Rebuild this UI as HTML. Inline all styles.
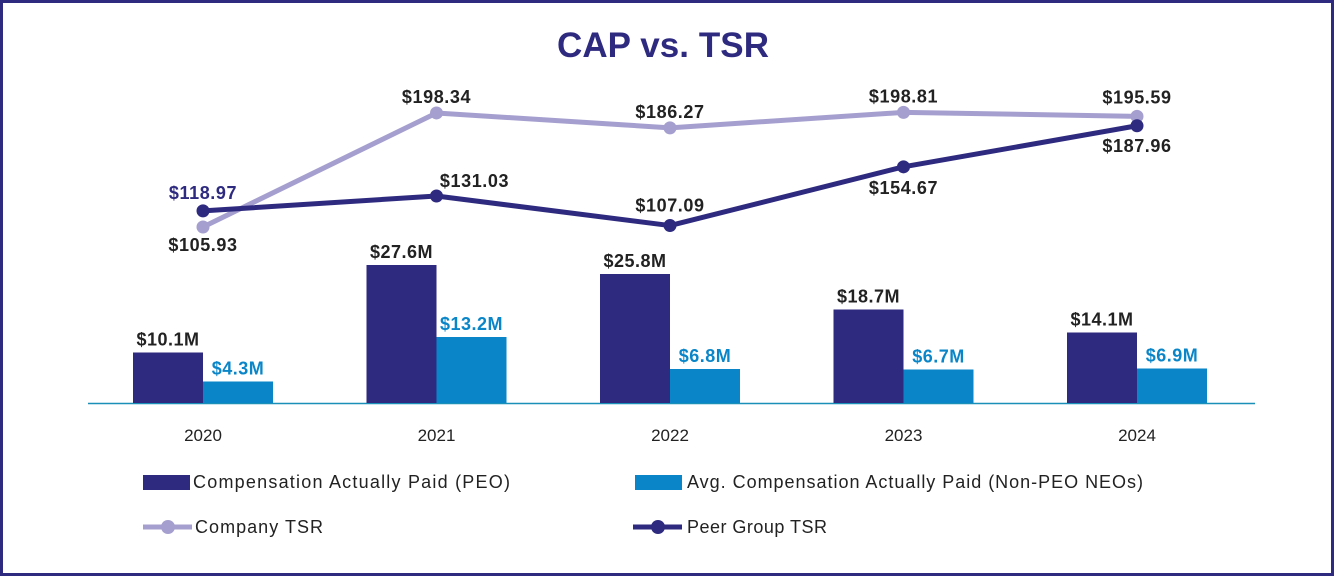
<!DOCTYPE html>
<html><head><meta charset="utf-8"><style>
html,body{margin:0;padding:0;background:#fff}
svg{display:block;font-family:"Liberation Sans",sans-serif}
</style></head><body>
<svg id="chart" width="1334" height="576" viewBox="0 0 1334 576">
<rect x="1.5" y="1.5" width="1331" height="573" fill="#fff" stroke="#2e2a7f" stroke-width="3"/>
<text x="663" y="57" text-anchor="middle" font-size="35" font-weight="bold" fill="#2e2a7f" textLength="212">CAP vs. TSR</text>
<g id="marks"></g>
<g>
<rect x="143" y="475" width="47" height="15" fill="#2e2a7f"/>
<text x="193" y="488" font-size="18" fill="#222" textLength="317">Compensation Actually Paid (PEO)</text>
<rect x="635" y="475" width="47" height="15" fill="#0a86c8"/>
<text x="687" y="488" font-size="18" fill="#222" textLength="456">Avg. Compensation Actually Paid (Non-PEO NEOs)</text>
<line x1="143" y1="527" x2="192" y2="527" stroke="#a59fcf" stroke-width="5"/>
<circle cx="168" cy="527" r="7" fill="#a59fcf"/>
<text x="195" y="533" font-size="18" fill="#222" textLength="128">Company TSR</text>
<line x1="633" y1="527" x2="682" y2="527" stroke="#2e2a7f" stroke-width="5"/>
<circle cx="658" cy="527" r="7" fill="#2e2a7f"/>
<text x="687" y="533" font-size="18" fill="#222" textLength="140">Peer Group TSR</text>
</g>
</svg>
<script>
const years = ["2020","2021","2022","2023","2024"];
const peoCap = [10.1, 27.6, 25.8, 18.7, 14.1];
const neoCap = [4.3, 13.2, 6.8, 6.7, 6.9];
const companyTsr = [105.93, 198.34, 186.27, 198.81, 195.59];
const peerTsr = [118.97, 131.03, 107.09, 154.67, 187.96];

const NS = "http://www.w3.org/2000/svg";
const g = document.getElementById("marks");
const baseY = 403;
function xC(i){ return 203 + i*233.5; }
function yBar(v){ return baseY - v*5; }
function yTsr(v){ return 357.7 - v*1.234; }
function mk(tag, attrs){ const e=document.createElementNS(NS,tag); for(const k in attrs) e.setAttribute(k,attrs[k]); g.appendChild(e); return e; }

const axis = mk("line",{x1:88,y1:baseY+0.5,x2:1255,y2:baseY+0.5,stroke:"#1a8fb8","stroke-width":1.5});



years.forEach((yr,i)=>{
  const cx = xC(i);
  const b1 = mk("rect",{x:cx-70,y:yBar(peoCap[i]),width:70,height:baseY-yBar(peoCap[i]),fill:"#2e2a7f"});
  
  
  const b2 = mk("rect",{x:cx,y:yBar(neoCap[i]),width:70,height:baseY-yBar(neoCap[i]),fill:"#0a86c8"});
  
  
  const l1 = mk("text",{x:cx-35,y:yBar(peoCap[i])-7,"text-anchor":"middle","font-size":18,"font-weight":"bold",fill:"#222","letter-spacing":0.5});
  l1.textContent = "$"+peoCap[i].toFixed(1)+"M";
  
  
  const l2 = mk("text",{x:cx+35,y:yBar(neoCap[i])-7,"text-anchor":"middle","font-size":18,"font-weight":"bold",fill:"#0a86c8","letter-spacing":0.5});
  l2.textContent = "$"+neoCap[i].toFixed(1)+"M";
  
  
  const t = mk("text",{x:cx,y:441,"text-anchor":"middle","font-size":17,fill:"#222"});
  t.textContent = yr;
  
  
});

function series(vals, color, name, labelPos, labelColors){
  const pts = vals.map((v,i)=>xC(i)+","+yTsr(v)).join(" ");
  const pl = mk("polyline",{points:pts,fill:"none",stroke:color,"stroke-width":5,"stroke-linejoin":"round"});
  
  
  vals.forEach((v,i)=>{
    const c = mk("circle",{cx:xC(i),cy:yTsr(v),r:6.5,fill:color});
    
    
    const p = labelPos[i];
    const t = mk("text",{x:xC(i)+p[0],y:yTsr(v)+p[1],"text-anchor":"middle","font-size":18,"font-weight":"bold",fill:labelColors[i],"letter-spacing":0.6});
    t.textContent = "$"+v.toFixed(2);
    
    
  });
}
series(companyTsr,"#a59fcf","company-tsr",[[0,24],[0,-10],[0,-10],[0,-10],[0,-13]],["#222","#222","#222","#222","#222"]);
series(peerTsr,"#2e2a7f","peer-tsr",[[0,-12],[38,-9],[0,-14],[0,27],[0,26]],["#2e2a7f","#222","#222","#222","#222"]);
</script>
</body></html>
